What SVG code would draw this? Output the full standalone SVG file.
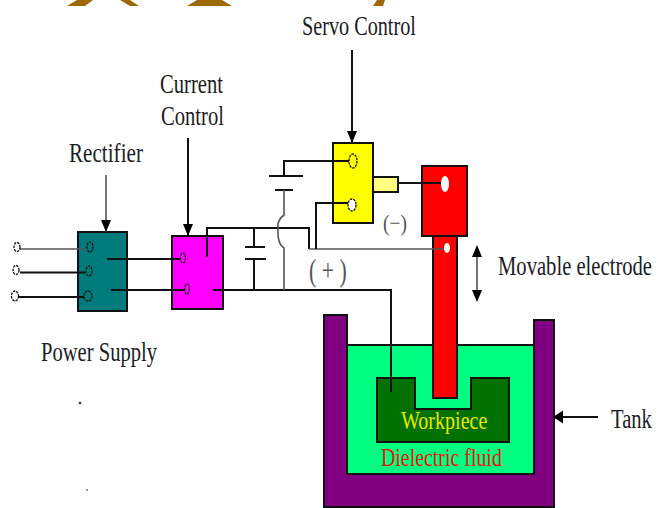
<svg xmlns="http://www.w3.org/2000/svg" width="664" height="508" viewBox="0 0 664 508">
<style>
text{font-family:"Liberation Serif","Times New Roman",serif;font-size:28px;fill:#1c1c24;}
.s26{font-size:26px;}
.b{stroke:#111;stroke-width:2;fill:none;}
.g{stroke:#555;stroke-width:1.6;fill:none;}
.box{stroke:#111;stroke-width:2;}
.h{fill:#fff;stroke:#111;stroke-width:1.3;stroke-dasharray:2.500 1;}
</style>
<defs>
<marker id="a" markerUnits="userSpaceOnUse" markerWidth="13" markerHeight="11" refX="12" refY="5" orient="auto"><path d="M0 0L12 5L0 10z" fill="#000"/></marker>
<marker id="t" markerUnits="userSpaceOnUse" markerWidth="11" markerHeight="14" refX="10" refY="6.500" orient="auto"><path d="M0 0L10 6.500L0 13z" fill="#000"/></marker>
</defs>
<g id="brand" fill="#a06800">
<polygon points="77,0 93,0 85,6 67,6"/>
<polygon points="120,0 130,0 139,6 130,6"/>
<polygon points="197,0 222,0 232,6 187,6"/>
<polygon points="377,0 385,0 383,6 373,6"/>
</g>
<g id="tank"><path d="M324 315H347V345H534V320H554V507H324Z" fill="#800080" class="box"/></g>
<g id="fluid"><rect x="347" y="345" width="187" height="129" fill="#00ff80" class="box"/></g>
<g id="workpiece"><path d="M377 378H415V409H471V378H509V442H377Z" fill="#007000" class="box"/>
<text class="s26" transform="translate(401 429) scale(.772 1)" style="fill:#e8e800">Workpiece</text></g>
<text class="s26" transform="translate(381 466) scale(.765 1)" style="fill:#f01010">Dielectric fluid</text>
<g id="rectifier"><rect x="78" y="232" width="49" height="79" fill="#007b7b" class="box"/></g>
<g id="current-control"><rect x="172" y="236" width="51" height="73" fill="#ff00ff" class="box"/></g>
<g id="servo-control"><rect x="333" y="143" width="40" height="80" fill="#ffff00" class="box"/></g>
<g id="holder"><rect x="373" y="177" width="25" height="15" fill="#ffff80" class="box"/></g>
<g id="electrode"><rect x="433" y="236" width="24" height="162" fill="#ff0000" class="box"/><rect x="422" y="166" width="45" height="70" fill="#ff0000" class="box"/></g>
<g id="connectors">
<path class="g" d="M20 249H86"/>
<path class="b" d="M20 272.500H85M18 297H84M107 259H180M111 290H185"/>
<path class="b" d="M207 257V228H310M309 228V249"/>
<path class="g" d="M309 249H444"/>
<path class="b" d="M316 249V203H348M284 176V161H349M213 290H391V392M398 183H441"/>
<path class="b" d="M269 176H303M275 190H293"/>
<path class="g" d="M284 190V215Q277 220 278 228Q277 244 284 248V290"/>
<path class="b" d="M254 228V247M245 247H265M245 259H266M254 259V290"/>
<path class="g" d="M106 175V232" marker-end="url(#a)"/>
<path class="b" d="M188 138V236" marker-end="url(#a)"/>
<path class="b" d="M352 50V143" marker-end="url(#a)"/>
<path class="b" d="M598 417H553" marker-end="url(#t)"/>
<path class="g" d="M477 250V297"/>
<path d="M477 245L472 257H482ZM477 302L472 290H482Z" fill="#000"/>
</g>
<g id="terminals">
<ellipse class="h" cx="17" cy="247" rx="3" ry="4.500"/><ellipse class="h" cx="16" cy="270" rx="3" ry="4.500"/><ellipse class="h" cx="15" cy="296" rx="3.500" ry="5"/>
<ellipse class="h" cx="90" cy="247" rx="3" ry="5" style="fill:#007b7b"/><ellipse class="h" cx="89" cy="271" rx="3" ry="5" style="fill:#007b7b"/><ellipse class="h" cx="88" cy="296" rx="4" ry="5" style="fill:#007b7b"/>
<ellipse class="h" cx="183" cy="258" rx="2.500" ry="5" style="fill:#ff00ff"/><ellipse class="h" cx="187" cy="289" rx="2.500" ry="5" style="fill:#ff00ff"/>
<ellipse class="h" cx="353" cy="161" rx="4" ry="7" style="fill:#ffff00"/><ellipse class="h" cx="352" cy="205" rx="4" ry="6"/>
<ellipse cx="445" cy="184" rx="4" ry="8" fill="#fff"/><ellipse cx="447" cy="248" rx="3" ry="5" fill="#fff"/>
</g>
<text transform="translate(302 35) scale(.722 1)">Servo Control</text>
<text transform="translate(160 93) scale(.737 1)">Current</text>
<text transform="translate(161 125) scale(.736 1)">Control</text>
<text transform="translate(69 162) scale(.755 1)">Rectifier</text>
<text transform="translate(41 361) scale(.735 1)">Power Supply</text>
<text transform="translate(498 275) scale(.737 1)">Movable electrode</text>
<text transform="translate(611 428) scale(.735 1)">Tank</text>
<text transform="translate(383 230.500) scale(.81 1)" style="font-size:24px;fill:#555">(−)</text>
<text transform="translate(309 281) scale(.68 1)" style="font-size:32px;fill:#555">( + )</text>
<circle cx="80" cy="403" r="1.300" fill="#333"/><circle cx="87" cy="490" r="1" fill="#777"/>
</svg>
